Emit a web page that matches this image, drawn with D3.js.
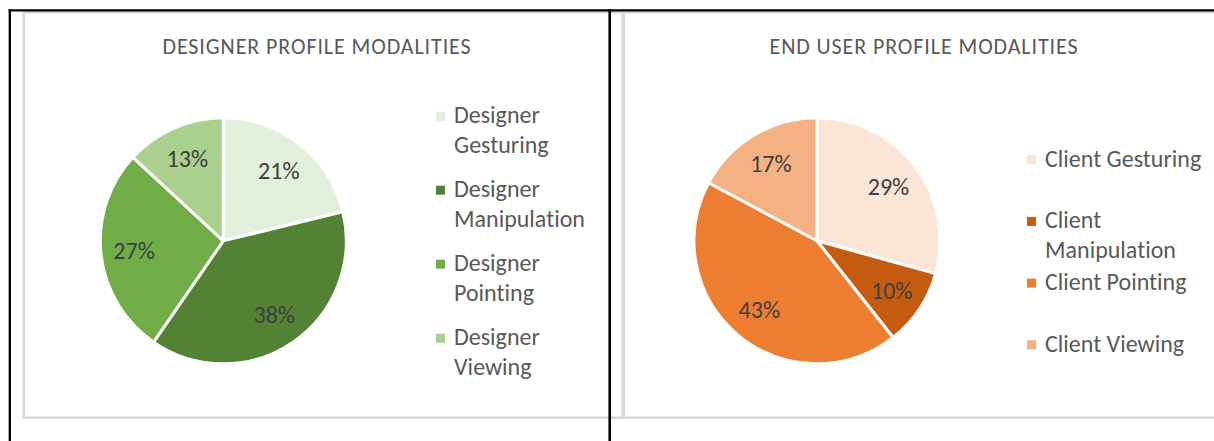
<!DOCTYPE html>
<html>
<head>
<meta charset="utf-8">
<script src="https://cdn.jsdelivr.net/npm/d3@7"></script>
<style>
  html, body { margin: 0; padding: 0; background: #fff; }
  svg { display: block; }
  text { font-family: Calibri, Carlito, Lato, "Open Sans", sans-serif; font-variant-ligatures: none; }
</style>
</head>
<body>
<svg id="chart" width="1214" height="441"></svg>
<script>
// Chart data
const designerTitle = "DESIGNER PROFILE MODALITIES";
const designerCategories = ["Designer Gesturing", "Designer Manipulation", "Designer Pointing", "Designer Viewing"];
const designerLegendLines = [["Designer", "Gesturing"], ["Designer", "Manipulation"], ["Designer", "Pointing"], ["Designer", "Viewing"]];
const designerShares = [21, 38, 27, 13];
const designerColors = ["#e2efda", "#548235", "#70ad47", "#a9d08e"];

const clientTitle = "END USER PROFILE MODALITIES";
const clientCategories = ["Client Gesturing", "Client Manipulation", "Client Pointing", "Client Viewing"];
const clientLegendLines = [["Client Gesturing"], ["Client", "Manipulation"], ["Client Pointing"], ["Client Viewing"]];
const clientShares = [29, 10, 43, 17];
const clientColors = ["#fbe5d6", "#c55a11", "#ed7d31", "#f4b183"];

const svg = d3.select("#chart");

// Page frame (table borders) and the two chart areas
const panelStroke = "#d9d9d9";
svg.append("rect").attr("x", 23.8).attr("y", 12.3).attr("width", 600).attr("height", 405.4)
  .attr("fill", "none").attr("stroke", panelStroke).attr("stroke-width", 2.6);
svg.append("rect").attr("x", 622.6).attr("y", 12.3).attr("width", 700).attr("height", 405.4)
  .attr("fill", "none").attr("stroke", panelStroke).attr("stroke-width", 2.6);

svg.append("line").attr("x1", 8.6).attr("x2", 1214).attr("y1", 10.4).attr("y2", 10.4)
  .attr("stroke", "#000").attr("stroke-width", 2.2);
svg.append("line").attr("x1", 9.8).attr("x2", 9.8).attr("y1", 9.3).attr("y2", 441)
  .attr("stroke", "#000").attr("stroke-width", 2.3);
svg.append("line").attr("x1", 609.7).attr("x2", 609.7).attr("y1", 9.3).attr("y2", 441)
  .attr("stroke", "#000").attr("stroke-width", 2.6);

function drawPie(opts) {
  const g = svg.append("g");

  g.append("text")
    .attr("x", opts.titleX).attr("y", 54)
    .attr("text-anchor", "middle")
    .attr("fill", "#595959")
    .attr("font-size", 22)
    .attr("letter-spacing", 0.9)
    .text(opts.title);

  const pie = d3.pie().sort(null).value(d => d.value);
  const arc = d3.arc().innerRadius(0).outerRadius(opts.r);
  const labelArc = d3.arc().innerRadius(opts.r * 0.73).outerRadius(opts.r * 0.73);

  const data = opts.categories.map((c, i) => ({ name: c, value: opts.values[i], color: opts.colors[i] }));
  const arcs = pie(data);

  const pg = g.append("g").attr("transform", `translate(${opts.cx},${opts.cy})`);
  pg.selectAll("path").data(arcs).join("path")
    .attr("d", arc)
    .attr("fill", d => d.data.color)
    .attr("stroke", "#fff")
    .attr("stroke-width", 3)
    .attr("stroke-linejoin", "round");

  pg.selectAll("text.pct").data(arcs).join("text")
    .attr("class", "pct")
    .attr("transform", d => `translate(${labelArc.centroid(d)})`)
    .attr("text-anchor", "middle")
    .attr("dy", "0.36em")
    .attr("fill", "#404040")
    .attr("font-size", 24)
    .text(d => d.data.value + "%");

  const lg = g.append("g");
  const items = lg.selectAll("g").data(data).join("g")
    .attr("transform", (d, i) => `translate(${opts.legendX},${opts.legendY + i * opts.legendStep})`);
  items.append("rect")
    .attr("x", 0).attr("y", -11.5).attr("width", 9).attr("height", 9)
    .attr("fill", d => d.color);
  items.append("text")
    .attr("x", 18).attr("y", 0)
    .attr("fill", "#595959")
    .attr("font-size", 24)
    .selectAll("tspan").data((d, i) => opts.legendLines[i]).join("tspan")
      .attr("x", 18)
      .attr("dy", (d, j) => j === 0 ? 0 : 29.5)
      .text(d => d);
}

drawPie({
  title: designerTitle, titleX: 317,
  categories: designerCategories, values: designerShares, colors: designerColors,
  legendLines: designerLegendLines,
  cx: 223.3, cy: 240.8, r: 123,
  legendX: 436, legendY: 123.2, legendStep: 74
});

drawPie({
  title: clientTitle, titleX: 924,
  categories: clientCategories, values: clientShares, colors: clientColors,
  legendLines: clientLegendLines,
  cx: 817, cy: 240.8, r: 123,
  legendX: 1027, legendY: 166.7, legendStep: 61.7
});
</script>
</body>
</html>
